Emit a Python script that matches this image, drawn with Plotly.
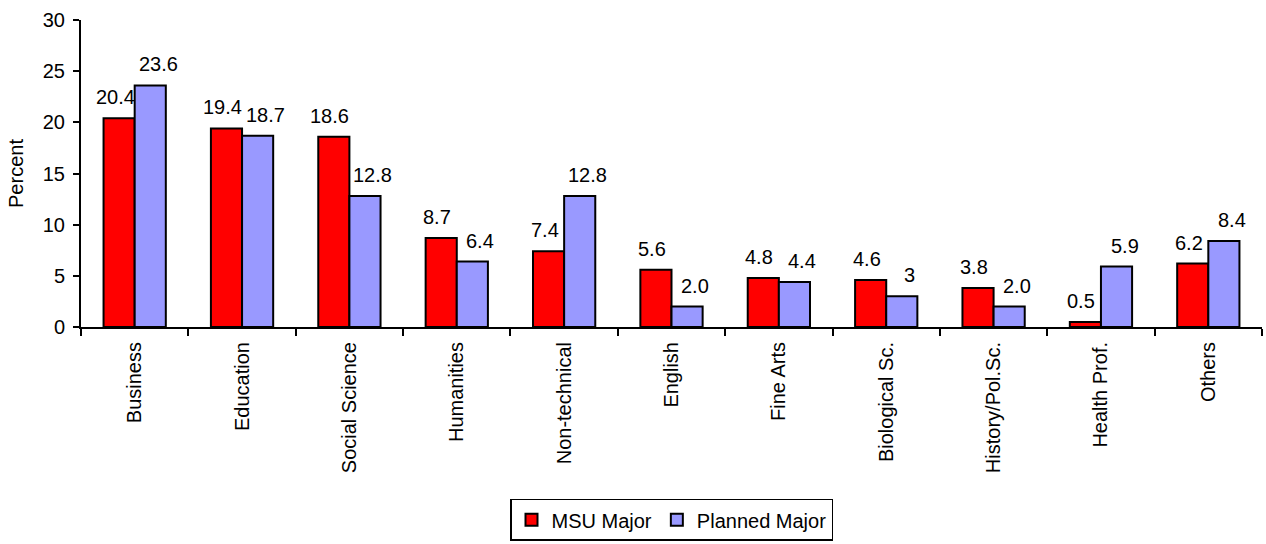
import plotly.graph_objects as go

# Majors of respondents: current MSU major vs. planned major (percent)
categories = ["Business", "Education", "Social Science", "Humanities", "Non-technical",
              "English", "Fine Arts", "Biological Sc.", "History/Pol.Sc.", "Health Prof.", "Others"]
msu_major = [20.4, 19.4, 18.6, 8.7, 7.4, 5.6, 4.8, 4.6, 3.8, 0.5, 6.2]
planned_major = [23.6, 18.7, 12.8, 6.4, 12.8, 2.0, 4.4, 3, 2.0, 5.9, 8.4]
msu_labels = ["20.4", "19.4", "18.6", "8.7", "7.4", "5.6", "4.8", "4.6", "3.8", "0.5", "6.2"]
planned_labels = ["23.6", "18.7", "12.8", "6.4", "12.8", "2.0", "4.4", "3", "2.0", "5.9", "8.4"]

FONT = "Liberation Sans, Arial, sans-serif"
FS = 20
BARGAP = 0.42
half = (1 - BARGAP) / 4  # offset of each bar centre from the category centre

fig = go.Figure()
fig.add_trace(go.Bar(x=categories, y=msu_major, name="MSU Major",
                     marker=dict(color="#FF0000", line=dict(color="black", width=2))))
fig.add_trace(go.Bar(x=categories, y=planned_major, name="Planned Major",
                     marker=dict(color="#9999FF", line=dict(color="black", width=2))))

annotations = []
for i in range(len(categories)):
    annotations.append(dict(x=i - half, y=msu_major[i], xref="x", yref="y",
                            text=msu_labels[i], showarrow=False, yanchor="bottom",
                            xshift=-4, yshift=8, font=dict(size=FS, color="black", family=FONT)))
    annotations.append(dict(x=i + half, y=planned_major[i], xref="x", yref="y",
                            text=planned_labels[i], showarrow=False, yanchor="bottom",
                            xshift=8, yshift=8, font=dict(size=FS, color="black", family=FONT)))

fig.update_layout(
    width=1266, height=544,
    margin=dict(l=81, r=4, t=20, b=217, autoexpand=False),
    paper_bgcolor="white", plot_bgcolor="white",
    font=dict(family=FONT, size=FS, color="black"),
    barmode="group", bargap=BARGAP, bargroupgap=0,
    showlegend=True,
    legend=dict(orientation="h", x=0.5, xanchor="center", y=0.006, yanchor="bottom",
                yref="container", bordercolor="black", borderwidth=1.5, font=dict(size=FS),
                itemwidth=30, tracegroupgap=0),
    annotations=annotations,
)
fig.update_xaxes(type="category", showline=True, linecolor="black", linewidth=2,
                 ticks="outside", tickson="boundaries", ticklen=7, tickwidth=2, tickcolor="black",
                 tickangle=-90, tickfont=dict(size=FS), ticklabelstandoff=5, showgrid=False,
                 automargin=False)
fig.update_yaxes(range=[0, 30], dtick=5, showline=True, linecolor="black", linewidth=2,
                 ticks="outside", ticklen=6, tickwidth=2, tickcolor="black",
                 showgrid=False, zeroline=False, tickfont=dict(size=FS), ticklabelstandoff=4,
                 title=dict(text="Percent", font=dict(size=FS), standoff=14), automargin=False)

fig.write_html("out.html")
